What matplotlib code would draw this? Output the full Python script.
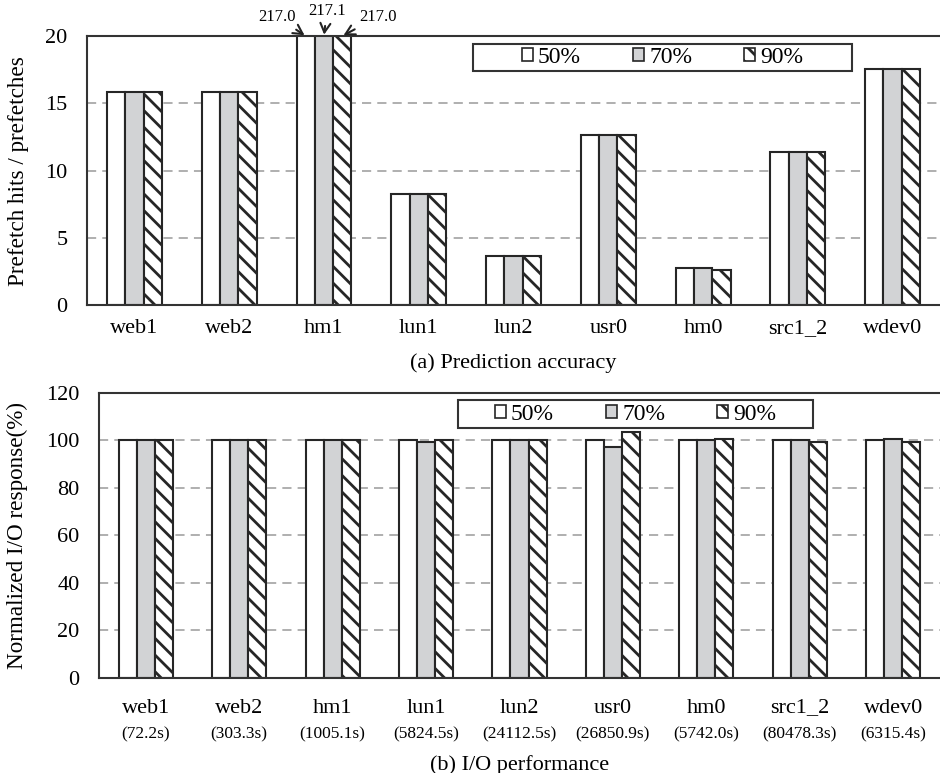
"""Prefetch accuracy and I/O performance under three thresholds."""

import matplotlib

matplotlib.use("Agg")
import matplotlib.pyplot as plt
import numpy as np
from matplotlib.patches import Rectangle

plt.rcParams["font.family"] = ["Liberation Serif", "DejaVu Serif"]
plt.rcParams["hatch.linewidth"] = 2.0
plt.rcParams["hatch.color"] = "#1a1a1a"

traces = ["web1", "web2", "hm1", "lun1", "lun2", "usr0", "hm0", "src1_2", "wdev0"]
base_times = ["72.2s", "303.3s", "1005.1s", "5824.5s", "24112.5s", "26850.9s", "5742.0s", "80478.3s", "6315.4s"]
thresholds = ["50%", "70%", "90%"]

accuracy_50 = [15.85, 15.85, 217.0, 8.28, 3.64, 12.66, 2.78, 11.35, 17.55]
accuracy_70 = [15.85, 15.85, 217.1, 8.28, 3.64, 12.66, 2.78, 11.35, 17.55]
accuracy_90 = [15.85, 15.85, 217.0, 8.28, 3.64, 12.66, 2.61, 11.35, 17.55]

response_50 = [100, 100, 100, 100, 100, 100, 100, 100, 100]
response_70 = [100, 100, 100, 99.3, 100, 97.2, 100, 100, 100.7]
response_90 = [100, 100, 100, 100, 100, 103.5, 100.7, 99.3, 99.3]

EDGE = "#262626"
STYLES = [
    {"facecolor": "white", "hatch": None},
    {"facecolor": "#d2d3d5", "hatch": None},
    {"facecolor": "white", "hatch": "\\\\"},
]
WIDTH = 0.193


def style_axes(ax, ymax, step):
    ax.set_xlim(-0.5, len(traces) - 0.5)
    ax.set_ylim(0, ymax)
    ax.set_yticks(np.arange(0, ymax + 1, step))
    ax.set_xticks(range(len(traces)), traces)
    ax.tick_params(axis="both", length=0, labelsize=16)
    ax.tick_params(axis="y", pad=14)
    ax.yaxis.grid(True, color="#9a9a9a", linestyle=(0, (6, 4)), linewidth=1.1)
    ax.set_axisbelow(True)
    for side in ("top", "left", "bottom"):
        ax.spines[side].set_color("#333333")
        ax.spines[side].set_linewidth(1.5)
    ax.spines["right"].set_visible(False)


def draw_bars(ax, series):
    x = np.arange(len(traces))
    handles = []
    for i, (values, style) in enumerate(zip(series, STYLES)):
        bars = ax.bar(
            x + (i - 1) * WIDTH,
            values,
            WIDTH,
            facecolor=style["facecolor"],
            hatch=style["hatch"],
            edgecolor=EDGE,
            linewidth=1.5,
            label=thresholds[i],
        )
        handles.append(bars)
    return handles


def boxed_legend(fig, handles, box):
    x0, y0, w, h = box
    fig.patches.append(
        Rectangle((x0, y0), w, h, transform=fig.transFigure, facecolor="white", edgecolor="#333333", linewidth=1.5, zorder=5)
    )
    leg = fig.legend(
        handles,
        thresholds,
        loc="center",
        bbox_to_anchor=(x0 + w / 2, y0 + h / 2),
        ncol=3,
        frameon=False,
        fontsize=17,
        handlelength=0.48,
        handleheight=0.48,
        handletextpad=0.2,
        columnspacing=2.2,
        borderpad=0,
    )
    leg.set_zorder(6)
    for patch in leg.get_patches():
        patch.set_linewidth(1.2)


fig = plt.figure(figsize=(9.4, 7.73), dpi=100)

# (a) prediction accuracy
ax1 = fig.add_axes([0.0926, 0.6050, 0.9074, 0.3484])
bars1 = draw_bars(ax1, [accuracy_50, accuracy_70, accuracy_90])
style_axes(ax1, 20, 5)
ax1.tick_params(axis="x", pad=10)
ax1.set_ylabel("Prefetch hits / prefetches", fontsize=16.7)
ax1.yaxis.set_label_coords(-0.068, 0.5)
ax1.text(0.5, -0.215, "(a) Prediction accuracy", transform=ax1.transAxes, ha="center", va="center", fontsize=16)

# labels for the bars that run off the top of the axis
hm1 = traces.index("hm1")
offsets = [(-21, 14), (2, 18), (26, 14)]
for i, (values, (dx, dy)) in enumerate(zip([accuracy_50, accuracy_70, accuracy_90], offsets)):
    ax1.annotate(
        f"{values[hm1]:.1f}",
        xy=(hm1 + (i - 1) * WIDTH, 20),
        xytext=(dx, dy),
        textcoords="offset points",
        ha="center",
        va="center",
        fontsize=12,
        annotation_clip=False,
        arrowprops={
            "arrowstyle": "->,head_length=0.55,head_width=0.3",
            "lw": 1.5,
            "color": "#222222",
            "shrinkA": 3,
            "shrinkB": 1,
        },
    )
boxed_legend(fig, bars1, (0.5032, 0.9081, 0.4032, 0.0349))

# (b) I/O performance
ax2 = fig.add_axes([0.1053, 0.1233, 0.8947, 0.3687])
bars2 = draw_bars(ax2, [response_50, response_70, response_90])
style_axes(ax2, 120, 20)
ax2.tick_params(axis="x", pad=15)
ax2.set_ylabel("Normalized I/O response(%)", fontsize=16.7)
ax2.yaxis.set_label_coords(-0.0844, 0.5)
for i, label in enumerate(base_times):
    ax2.text(i, -0.2, f"({label})", transform=ax2.get_xaxis_transform(), ha="center", va="center", fontsize=12.5)
ax2.text(0.5, -0.305, "(b) I/O performance", transform=ax2.transAxes, ha="center", va="center", fontsize=16)
boxed_legend(fig, bars2, (0.4872, 0.4463, 0.3777, 0.0362))

fig.savefig("out.png", dpi=100)
